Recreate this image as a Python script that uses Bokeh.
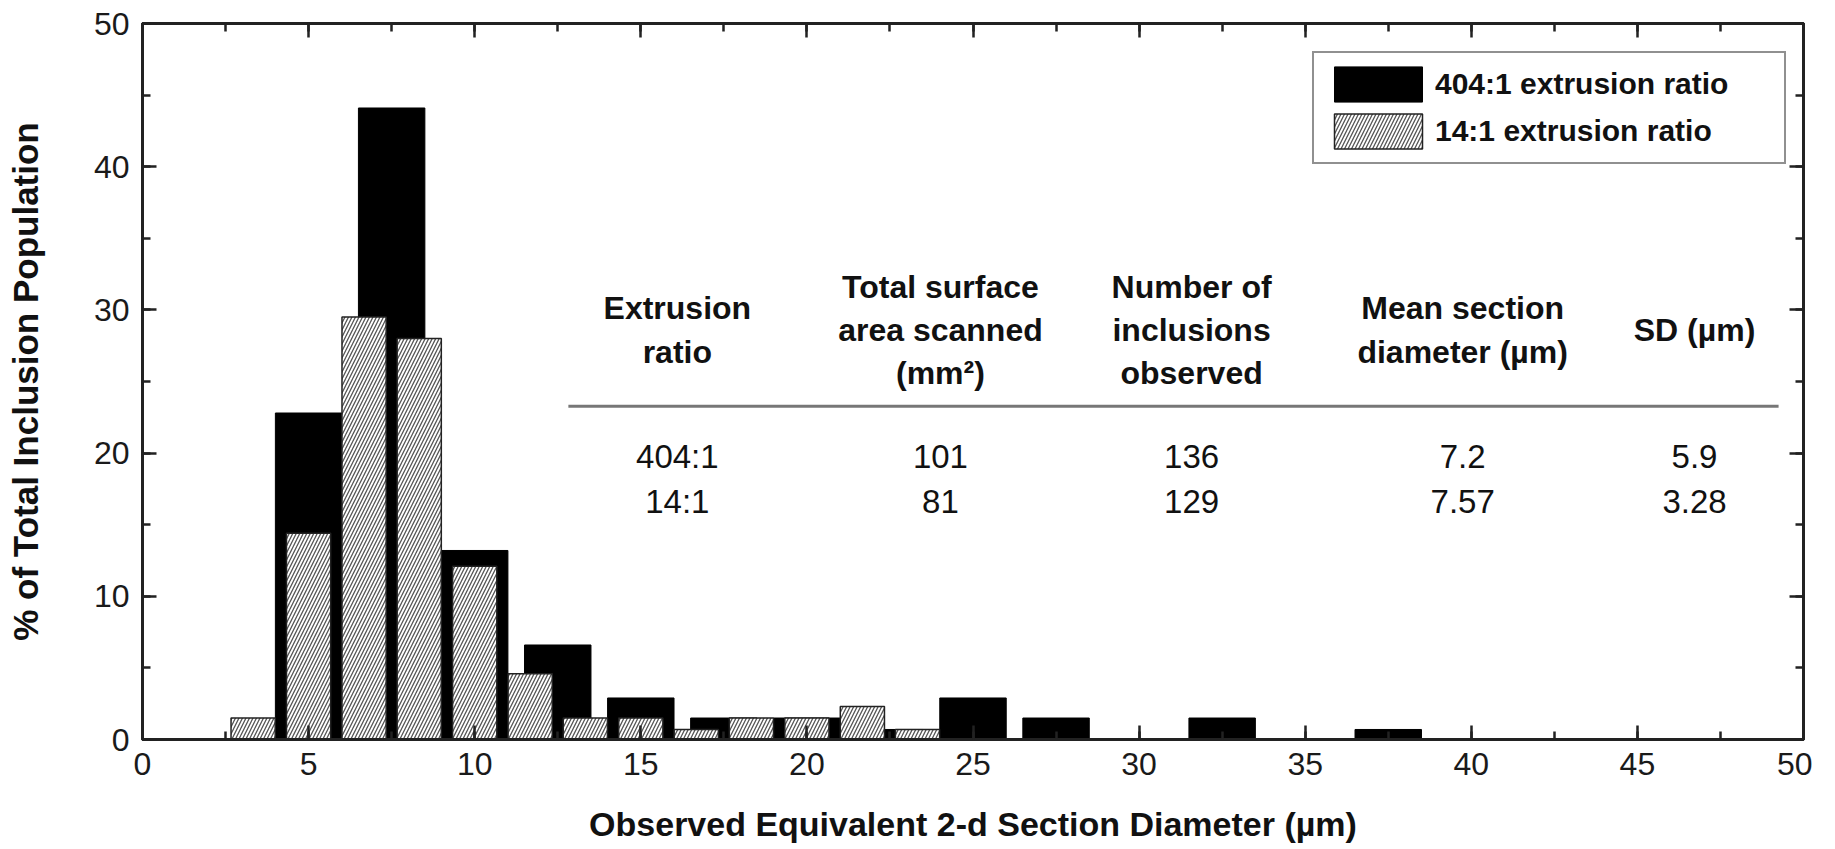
from bokeh.plotting import figure
from bokeh.models import (Range1d, LinearAxis, SingleIntervalTicker, Legend, LegendItem)
from bokeh.core.properties import value
from bokeh.embed import file_html
from bokeh.resources import INLINE

# ---------------- data ----------------
black_x = [5, 7.5, 10, 12.5, 15, 17.5, 20, 22.5, 25, 27.5, 30, 32.5, 35, 37.5]
black_y = [22.8, 44.1, 13.2, 6.6, 2.9, 1.5, 1.5, 0.7, 2.9, 1.5, 0, 1.5, 0, 0.7]
hatch_x = [3.33, 5.0, 6.67, 8.33, 10.0, 11.67, 13.33, 15.0, 16.67, 18.33, 20.0, 21.67, 23.33]
hatch_y = [1.5, 14.4, 29.5, 28.0, 12.1, 4.6, 1.5, 1.5, 0.7, 1.5, 1.5, 2.3, 0.7]
black_width = 2.0
hatch_width = 1.33
series_names = ["404:1 extrusion ratio", "14:1 extrusion ratio"]

table_headers = [["Extrusion", "ratio"],
                 ["Total surface", "area scanned", "(mm\u00b2)"],
                 ["Number of", "inclusions", "observed"],
                 ["Mean section", "diameter (\u00b5m)"],
                 ["SD (\u00b5m)"]]
table_rows = [["404:1", "101", "136", "7.2", "5.9"],
              ["14:1", "81", "129", "7.57", "3.28"]]

x_title = "Observed Equivalent 2-d Section Diameter (\u00b5m)"
y_title = "% of Total Inclusion Population"

# ---------------- layout constants ----------------
FONT = "Liberation Sans"
col_x = [16.1, 24.02, 31.58, 39.74, 46.72]      # table column centres (data units)
header_mid = 28.6
header_step = 3.02
row_y = [19.75, 16.64]
rule_y = 23.27
rule_x0, rule_x1 = 12.82, 49.25

p = figure(width=1812, height=845, output_backend="svg", toolbar_location=None,
           x_range=Range1d(0, 50), y_range=Range1d(0, 50),
           min_border_left=142, min_border_right=9, min_border_top=23,
           min_border_bottom=106, background_fill_color="white",
           border_fill_color="white")
p.grid.visible = False
p.outline_line_color = "#222222"
p.outline_line_width = 3

def style_axis(ax, labels=True):
    ax.axis_line_color = "#222222"
    ax.axis_line_width = 3
    ax.major_tick_in = 14
    ax.major_tick_out = 0
    ax.minor_tick_in = 8
    ax.minor_tick_out = 0
    ax.major_tick_line_color = "#222222"
    ax.minor_tick_line_color = "#222222"
    ax.major_tick_line_width = 2.5
    ax.minor_tick_line_width = 2.5
    if labels:
        ax.major_label_text_font = FONT
        ax.major_label_text_font_size = "32px"
        ax.major_label_text_color = "#1a1a1a"
        ax.axis_label_text_font = FONT
        ax.axis_label_text_font_style = "bold"
        ax.axis_label_text_color = "#111111"
    else:
        ax.major_label_text_font_size = "0px"
        ax.major_label_text_color = None
        ax.major_label_standoff = 0

p.xaxis.ticker = SingleIntervalTicker(interval=5, num_minor_ticks=2)
p.yaxis.ticker = SingleIntervalTicker(interval=10, num_minor_ticks=2)
style_axis(p.xaxis[0])
style_axis(p.yaxis[0])
p.xaxis.axis_label = x_title
p.yaxis.axis_label = y_title
p.xaxis.axis_label_text_font_size = "34px"
p.yaxis.axis_label_text_font_size = "35px"
p.xaxis.major_label_standoff = 13
p.xaxis.axis_label_standoff = 27
p.yaxis.major_label_standoff = 13
p.yaxis.axis_label_standoff = 46

top_ax = LinearAxis(ticker=SingleIntervalTicker(interval=5, num_minor_ticks=2))
style_axis(top_ax, labels=False)
p.add_layout(top_ax, "above")
right_ax = LinearAxis(ticker=SingleIntervalTicker(interval=10, num_minor_ticks=2))
style_axis(right_ax, labels=False)
p.add_layout(right_ax, "right")

# ---------------- bars ----------------
r_black = p.vbar(x=black_x, top=black_y, bottom=0, width=black_width,
                 fill_color="black", line_color="black", line_width=1)
r_hatch = p.vbar(x=hatch_x, top=hatch_y, bottom=0, width=hatch_width,
                 fill_color="white", line_color="#222222", line_width=1.5,
                 hatch_pattern="/", hatch_color="#555555", hatch_scale=7,
                 hatch_weight=1.3)

legend = Legend(items=[LegendItem(label=series_names[0], renderers=[r_black]),
                       LegendItem(label=series_names[1], renderers=[r_hatch])],
                location=(1170, 575), padding=9, spacing=3, margin=0,
                glyph_width=110, glyph_height=44, label_standoff=2,
                label_width=340, label_height=44,
                label_text_font=FONT, label_text_font_style="bold",
                label_text_font_size="30px", label_text_color="#111111",
                border_line_color="#222222", border_line_width=2.5,
                background_fill_color="white", background_fill_alpha=1)
p.add_layout(legend)

# ---------------- inset table ----------------
hx, hy, ht = [], [], []
for cx, lines in zip(col_x, table_headers):
    n = len(lines)
    for i, line in enumerate(lines):
        hx.append(cx)
        hy.append(header_mid + ((n - 1) / 2 - i) * header_step)
        ht.append(line)
p.text(x=hx, y=hy, text=ht, text_align="center", text_baseline="middle",
       text_font=value(FONT), text_font_style="bold", text_font_size=value("32px"),
       text_color="#111111")

p.segment(x0=[rule_x0], y0=[rule_y], x1=[rule_x1], y1=[rule_y],
          line_color="#777777", line_width=3)

dx, dy, dt = [], [], []
for ry, row in zip(row_y, table_rows):
    for cx, cell in zip(col_x, row):
        dx.append(cx)
        dy.append(ry)
        dt.append(cell)
p.text(x=dx, y=dy, text=dt, text_align="center", text_baseline="middle",
       text_font=value(FONT), text_font_size=value("33px"), text_color="#111111")

open("out.html", "w").write(file_html(p, INLINE))
